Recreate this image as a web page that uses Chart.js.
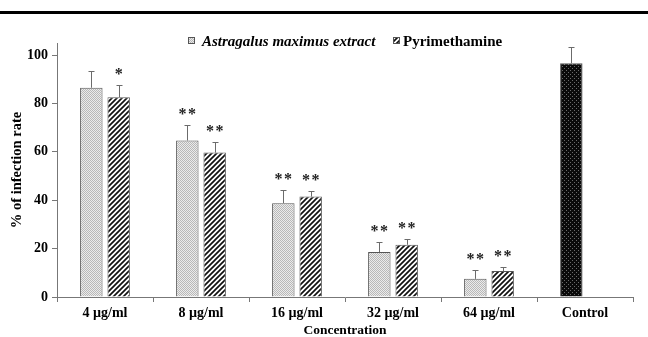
<!DOCTYPE html>
<html>
<head>
<meta charset="utf-8">
<script src="https://cdn.jsdelivr.net/npm/chart.js@4.4.1/dist/chart.umd.min.js"></script>
<style>
    html, body { margin: 0; padding: 0; background: #fff; }
    #wrap { position: relative; width: 648px; height: 337px; }
    #rule { position: absolute; left: 0; top: 11px; width: 648px; height: 3px; background: #000; }
</style>
</head>
<body>
<div id="wrap">
    <div id="rule"></div>
    <canvas id="chart" width="648" height="337"></canvas>
</div>
<script>
const labels = ['4 µg/ml', '8 µg/ml', '16 µg/ml', '32 µg/ml', '64 µg/ml', 'Control'];
// Control sits in the first group slot, so it lives in the first series
const astragalus = [86.5, 64.7, 38.8, 18.6, 7.5, 96.6];
const astragalusSd = [7.0, 6.3, 5.4, 4.3, 3.6, 6.6];
const astragalusSig = ['', '**', '**', '**', '**', ''];
const pyrimethamine = [82.6, 59.7, 41.5, 21.6, 10.7, null];
const pyrimethamineSd = [5.1, 4.2, 2.3, 2.5, 1.6, null];
const pyrimethamineSig = ['*', '**', '**', '**', '**', ''];
const yTicks = [0, 20, 40, 60, 80, 100];

const FONT = "'Liberation Serif', 'Times New Roman', serif";

function makePattern(size, paint) {
    const c = document.createElement('canvas');
    c.width = c.height = size;
    const g = c.getContext('2d');
    paint(g, size);
    return g.createPattern(c, 'repeat');
}

const stipple = makePattern(2, (g) => {
    g.fillStyle = '#ebebeb';
    g.fillRect(0, 0, 2, 2);
    g.fillStyle = '#b8b8b8';
    g.fillRect(0, 0, 1, 1);
    g.fillRect(1, 1, 1, 1);
});

const hatch = makePattern(5, (g, s) => {
    g.fillStyle = '#fff';
    g.fillRect(0, 0, s, s);
    g.strokeStyle = '#111';
    g.lineWidth = 1.7;
    g.beginPath();
    g.moveTo(0, s); g.lineTo(s, 0);
    g.moveTo(-1, 1); g.lineTo(1, -1);
    g.moveTo(s - 1, s + 1); g.lineTo(s + 1, s - 1);
    g.stroke();
});

const darkDots = makePattern(4, (g) => {
    g.fillStyle = '#0a0a0a';
    g.fillRect(0, 0, 4, 4);
    g.fillStyle = '#6a6a6a';
    g.fillRect(0, 0, 1, 1);
    g.fillRect(2, 2, 1, 1);
});

const errorBars = {
    id: 'errorBars',
    afterDatasetsDraw(chart) {
        const { ctx, scales: { y } } = chart;
        ctx.save();
        [[0, astragalusSd, astragalusSig], [1, pyrimethamineSd, pyrimethamineSig]].forEach(([i, sd, sig]) => {
            const meta = chart.getDatasetMeta(i);
            meta.data.forEach((bar, j) => {
                const v = chart.data.datasets[i].data[j];
                if (v == null) return;
                const x = Math.round(bar.x) + 0.5;
                const top = y.getPixelForValue(v + sd[j]);
                ctx.strokeStyle = '#6b6b6b';
                ctx.lineWidth = 1;
                ctx.beginPath();
                ctx.moveTo(x, bar.y);
                ctx.lineTo(x, Math.round(top) + 0.5);
                ctx.moveTo(x - 3, Math.round(top) + 0.5);
                ctx.lineTo(x + 3, Math.round(top) + 0.5);
                ctx.stroke();

                const stars = sig[j];
                if (!stars) return;
                ctx.fillStyle = '#222';
                ctx.font = 'bold 16px ' + FONT;
                ctx.textAlign = 'center';
                ctx.textBaseline = 'alphabetic';
                const gap = 9.5;
                const x0 = bar.x - (stars.length - 1) * gap / 2;
                for (let k = 0; k < stars.length; k++) {
                    ctx.fillText('*', x0 + k * gap, top - 6);
                }
            });
        });
        ctx.restore();
    }
};

const patternLegend = {
    id: 'patternLegend',
    afterDraw(chart) {
        const ctx = chart.ctx;
        const items = [
            { text: 'Astragalus maximus extract', fill: stipple, font: 'italic bold 15px ' + FONT, box: 188, tx: 202 },
            { text: 'Pyrimethamine', fill: hatch, font: 'bold 15px ' + FONT, box: 393, tx: 403 }
        ];
        ctx.save();
        items.forEach(it => {
            ctx.fillStyle = it.fill;
            ctx.fillRect(it.box, 37, 7, 7);
            ctx.strokeStyle = '#555';
            ctx.lineWidth = 1;
            ctx.strokeRect(it.box + 0.5, 37.5, 6, 6);
            ctx.fillStyle = '#000';
            ctx.font = it.font;
            ctx.textAlign = 'left';
            ctx.textBaseline = 'alphabetic';
            ctx.fillText(it.text, it.tx, 45.5);
        });
        ctx.restore();
    }
};

new Chart(document.getElementById('chart'), {
    type: 'bar',
    data: {
        labels: labels,
        datasets: [{
            label: 'Astragalus maximus extract',
            data: astragalus,
            backgroundColor: labels.map((l, i) => i === labels.length - 1 ? darkDots : stipple),
            borderColor: '#555',
            borderWidth: 1,
            categoryPercentage: 0.57,
            barPercentage: 0.82
        }, {
            label: 'Pyrimethamine',
            data: pyrimethamine,
            backgroundColor: hatch,
            borderColor: '#555',
            borderWidth: 1,
            categoryPercentage: 0.57,
            barPercentage: 0.82
        }]
    },
    options: {
        responsive: false,
        animation: false,
        events: [],
        layout: { padding: { top: 43, right: 15, left: 0, bottom: 0 } },
        plugins: {
            legend: { display: false },
            tooltip: { enabled: false }
        },
        scales: {
            x: {
                grid: { drawOnChartArea: false, tickLength: 5, color: '#777', offset: true },
                border: { color: '#777' },
                ticks: { color: '#000', font: { family: FONT, size: 14, weight: 'bold' }, padding: 3, maxRotation: 0 },
                title: {
                    display: true, text: 'Concentration', color: '#000',
                    font: { family: FONT, size: 13.5, weight: 'bold', lineHeight: 1 }, padding: { top: 0, bottom: 0 }
                },
                afterFit(scale) { scale.height = 40; }
            },
            y: {
                min: 0,
                max: 105,
                grid: { drawOnChartArea: false, tickLength: 5, color: '#777' },
                border: { color: '#777' },
                afterBuildTicks(scale) { scale.ticks = yTicks.map(v => ({ value: v })); },
                ticks: { color: '#000', font: { family: FONT, size: 14, weight: 'bold' }, padding: 4 },
                title: {
                    display: true, text: '% of infection rate', color: '#000',
                    font: { family: FONT, size: 14.5, weight: 'bold' }, padding: { top: 9, bottom: 0 }
                },
                afterFit(scale) { scale.width = 57; }
            }
        }
    },
    plugins: [errorBars, patternLegend]
});
</script>
</body>
</html>
